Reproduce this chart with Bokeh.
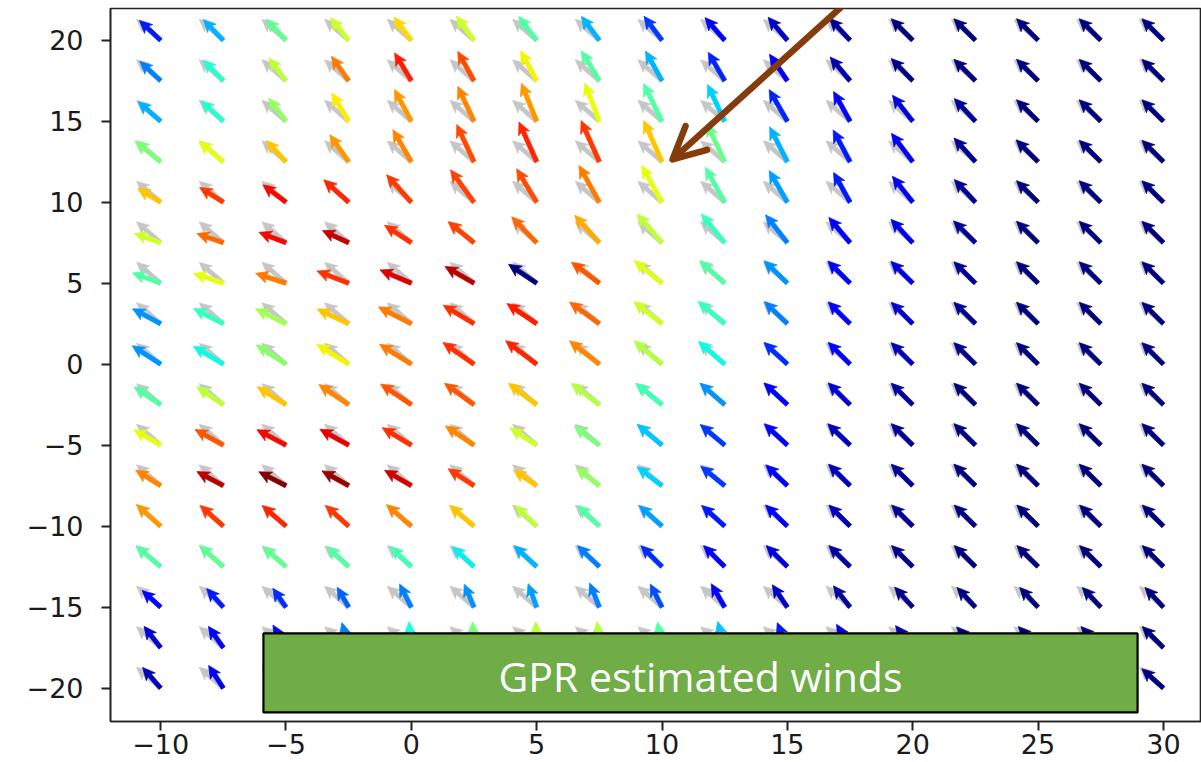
import numpy as np
from bokeh.plotting import figure
from bokeh.models import FixedTicker, Range1d, Arrow, OpenHead
from bokeh.core.properties import value
from bokeh.embed import file_html
from bokeh.resources import INLINE

# ---------------- data ----------------
X_GRID = [-10, -7.5, -5, -2.5, 0, 2.5, 5, 7.5, 10, 12.5, 15, 17.5, 20, 22.5, 25, 27.5, 30]
Y_GRID = [20, 17.5, 15, 12.5, 10, 7.5, 5, 2.5, 0, -2.5, -5, -7.5, -10, -12.5, -15, -17.5, -20]

# estimated wind direction (degrees, screen angle) per grid row (top -> bottom)
EST_DIR = [
    [137, 134, 133, 129, 127, 126, 127, 127, 127, 131, 130, 133, 135, 135, 135, 135, 135],
    [137, 134, 127, 125, 121, 119, 118, 121, 119, 120, 124, 130, 134, 135, 135, 135, 135],
    [139, 137, 127, 121, 118, 115, 112, 111, 116, 115, 120, 119, 128, 133, 135, 135, 135],
    [141, 140, 133, 125, 120, 115, 114, 114, 114, 115, 117, 118, 127, 132, 135, 135, 135],
    [149, 148, 143, 138, 132, 126, 121, 119, 119, 119, 120, 119, 128, 133, 135, 135, 135],
    [161, 161, 159, 155, 147, 141, 134, 132, 131, 129, 128, 130, 133, 135, 135, 135, 135],
    [160, 162, 162, 159, 157, 150, 146, 143, 141, 138, 136, 135, 135, 135, 135, 135, 135],
    [152, 153, 154, 155, 153, 149, 146, 144, 142, 140, 136, 135, 135, 135, 135, 135, 135],
    [147, 149, 147, 148, 148, 145, 143, 142, 140, 139, 137, 135, 135, 135, 135, 135, 135],
    [146, 146, 148, 146, 146, 144, 143, 143, 141, 139, 137, 135, 135, 135, 135, 135, 135],
    [150, 151, 152, 151, 149, 146, 147, 143, 140, 140, 137, 136, 135, 135, 135, 135, 135],
    [148, 152, 153, 151, 150, 147, 146, 142, 143, 141, 136, 135, 135, 135, 135, 135, 135],
    [138, 138, 139, 138, 139, 140, 136, 136, 138, 138, 136, 135, 135, 135, 135, 135, 135],
    [140, 138, 139, 137, 136, 137, 137, 136, 135, 135, 135, 135, 135, 135, 135, 135, 135],
    [138, 132, 125, 120, 117, 113, 110, 112, 117, 120, 124, 128, 132, 133, 133, 133, 133],
    [128, 125, 120, 105, 95, 93, 92, 95, 100, 105, 112, 120, 128, 132, 133, 133, 135],
    [131, 123, 118, 110, 100, 95, 95, 100, 105, 110, 115, 122, 128, 132, 135, 136, 138],
]

# estimated wind speed per grid row
EST_SPEED = [
    [2.9, 2.9, 2.9, 2.9, 2.9, 3.0, 3.0, 3.0, 3.0, 3.0, 3.0, 3.0, 3.05, 3.05, 3.05, 3.05, 3.05],
    [2.85, 2.9, 2.85, 3.0, 3.25, 3.35, 3.4, 3.5, 3.4, 3.3, 3.2, 3.1, 3.1, 3.05, 3.05, 3.05, 3.05],
    [3.0, 3.0, 2.9, 3.3, 3.6, 3.85, 4.1, 4.1, 4.2, 4.05, 3.65, 3.4, 3.3, 3.1, 3.05, 3.05, 3.05],
    [3.3, 3.2, 2.9, 3.3, 3.7, 4.1, 4.35, 4.5, 4.5, 4.2, 3.9, 3.6, 3.55, 3.2, 3.1, 3.05, 3.05],
    [2.7, 2.8, 2.9, 3.35, 3.7, 4.0, 3.9, 4.2, 4.2, 4.0, 3.65, 3.4, 3.3, 3.1, 3.05, 3.05, 3.05],
    [2.8, 2.8, 2.9, 2.9, 3.2, 3.35, 3.6, 3.7, 3.8, 3.7, 3.55, 3.3, 3.2, 3.1, 3.05, 3.05, 3.05],
    [3.0, 3.15, 3.2, 3.4, 3.4, 3.35, 3.4, 3.5, 3.6, 3.4, 3.25, 3.15, 3.1, 3.05, 3.05, 3.05, 3.05],
    [3.2, 3.35, 3.4, 3.5, 3.7, 3.6, 3.6, 3.7, 3.6, 3.5, 3.2, 3.1, 3.05, 3.05, 3.05, 3.05, 3.05],
    [3.4, 3.5, 3.55, 3.75, 3.75, 3.8, 3.9, 3.8, 3.65, 3.5, 3.2, 3.1, 3.05, 3.05, 3.05, 3.05, 3.05],
    [3.2, 3.2, 3.4, 3.6, 3.7, 3.65, 3.55, 3.55, 3.4, 3.3, 3.2, 3.1, 3.05, 3.05, 3.05, 3.05, 3.05],
    [3.1, 3.25, 3.3, 3.3, 3.4, 3.45, 3.2, 3.15, 3.25, 3.2, 3.15, 3.1, 3.05, 3.05, 3.05, 3.05, 3.05],
    [2.95, 3.0, 3.05, 3.05, 3.1, 3.1, 2.8, 2.95, 3.15, 3.1, 3.0, 3.05, 3.05, 3.05, 3.05, 3.05, 3.05],
    [3.25, 3.1, 3.15, 3.1, 3.3, 3.2, 3.0, 3.0, 3.1, 3.1, 3.05, 3.0, 3.0, 3.0, 3.0, 3.0, 3.0],
    [3.25, 3.2, 3.05, 2.95, 2.9, 2.95, 3.1, 3.05, 3.0, 3.0, 3.0, 3.0, 3.0, 3.0, 3.0, 3.0, 3.0],
    [2.5, 2.5, 2.3, 2.3, 2.6, 2.5, 2.5, 2.6, 2.6, 2.7, 2.7, 2.7, 2.7, 2.7, 2.7, 2.7, 2.7],
    [2.7, 2.6, 2.6, 2.6, 2.6, 2.6, 2.6, 2.6, 2.6, 2.7, 2.7, 2.7, 2.8, 2.8, 2.9, 2.9, 3.0],
    [2.75, 2.7, 2.7, 2.7, 2.7, 2.7, 2.7, 2.7, 2.7, 2.7, 2.8, 2.8, 2.8, 2.85, 2.9, 2.9, 2.9],
]

# estimation error (normalised, colour-mapped with jet) per grid row
EST_ERR = [
    [0.15, 0.30, 0.47, 0.60, 0.68, 0.60, 0.45, 0.30, 0.18, 0.12, 0.06, 0.02, 0, 0, 0, 0, 0],
    [0.25, 0.40, 0.58, 0.78, 0.88, 0.83, 0.65, 0.45, 0.30, 0.16, 0.11, 0.04, 0.01, 0, 0, 0, 0],
    [0.30, 0.40, 0.53, 0.66, 0.75, 0.77, 0.75, 0.63, 0.45, 0.33, 0.16, 0.12, 0.08, 0.02, 0, 0, 0],
    [0.50, 0.63, 0.70, 0.75, 0.77, 0.83, 0.87, 0.85, 0.70, 0.48, 0.30, 0.15, 0.10, 0.02, 0, 0, 0],
    [0.70, 0.85, 0.90, 0.87, 0.85, 0.84, 0.83, 0.78, 0.63, 0.45, 0.28, 0.15, 0.10, 0.02, 0, 0, 0],
    [0.60, 0.80, 0.90, 0.94, 0.86, 0.84, 0.80, 0.73, 0.58, 0.42, 0.25, 0.12, 0.09, 0.02, 0, 0, 0],
    [0.45, 0.63, 0.78, 0.86, 0.92, 0.95, 0.0, 0.82, 0.62, 0.45, 0.27, 0.12, 0.08, 0.02, 0, 0, 0],
    [0.27, 0.42, 0.55, 0.70, 0.78, 0.86, 0.88, 0.80, 0.60, 0.42, 0.25, 0.12, 0.07, 0.02, 0, 0, 0],
    [0.27, 0.37, 0.52, 0.65, 0.78, 0.86, 0.87, 0.77, 0.57, 0.37, 0.17, 0.12, 0.05, 0.01, 0, 0, 0],
    [0.45, 0.58, 0.70, 0.77, 0.82, 0.82, 0.70, 0.57, 0.43, 0.27, 0.12, 0.07, 0.03, 0, 0, 0, 0],
    [0.63, 0.82, 0.90, 0.91, 0.86, 0.77, 0.60, 0.50, 0.32, 0.18, 0.12, 0.05, 0.02, 0, 0, 0, 0],
    [0.77, 0.95, 1.0, 0.98, 0.93, 0.85, 0.70, 0.53, 0.33, 0.18, 0.12, 0.05, 0.02, 0, 0, 0, 0],
    [0.75, 0.85, 0.87, 0.85, 0.77, 0.70, 0.58, 0.45, 0.28, 0.15, 0.12, 0.05, 0.02, 0, 0, 0, 0],
    [0.45, 0.47, 0.47, 0.45, 0.43, 0.36, 0.30, 0.25, 0.17, 0.12, 0.08, 0.03, 0.01, 0, 0, 0, 0],
    [0.13, 0.15, 0.17, 0.22, 0.25, 0.27, 0.28, 0.25, 0.20, 0.12, 0.06, 0.03, 0.01, 0, 0, 0, 0],
    [0.07, 0.12, 0.13, 0.25, 0.38, 0.50, 0.58, 0.57, 0.45, 0.32, 0.15, 0.10, 0.05, 0.02, 0, 0, 0],
    [0.05, 0.10, 0.12, 0.20, 0.30, 0.40, 0.45, 0.45, 0.35, 0.25, 0.12, 0.08, 0.04, 0.01, 0, 0, 0],
]

# ground-truth wind (uniform field, grey arrows)
TRUE_DIR = 139
TRUE_SPEED = 3.2

XTICKS = [-10, -5, 0, 5, 10, 15, 20, 25, 30]
YTICKS = [-20, -15, -10, -5, 0, 5, 10, 15, 20]

LABEL = "GPR estimated winds"
BOX = dict(left=-5.9, right=28.97, top=-16.62, bottom=-21.5)
ANNOT = dict(x_start=17.52, y_start=22.57, x_end=10.42, y_end=12.64)

# ---------------- layout ----------------
W, H = 1201, 762
BL, BT, BR, BB = 110, 8, 0, 41
X0, X1 = -12.0, 31.52
Y0, Y1 = -22.06, 21.96
FW, FH = W - BL - BR, H - BT - BB
SX = FW / (X1 - X0)
SY = FH / (Y1 - Y0)
PX_PER_SPEED = 10.0


def jet(v):
    v = float(np.clip(v, 0, 1))
    r = np.interp(v, [0, 0.35, 0.66, 0.89, 1.0], [0, 0, 1, 1, 0.5])
    g = np.interp(v, [0, 0.125, 0.375, 0.64, 0.91, 1.0], [0, 0, 1, 1, 0, 0])
    b = np.interp(v, [0, 0.11, 0.34, 0.65, 1.0], [0.5, 1, 1, 0, 0])
    return "#%02x%02x%02x" % (int(r * 255), int(g * 255), int(b * 255))


def arrow_poly(x0, y0, ang, length):
    a = np.radians(ang)
    d = np.array([np.cos(a), np.sin(a)])
    n = np.array([-np.sin(a), np.cos(a)])
    w, hw, hl, hal = 2.2, 6.0, 12.5, 10.5
    pts = [(0, w), (length - hal, w), (length - hl, hw), (length, 0),
           (length - hl, -hw), (length - hal, -w), (0, -w)]
    xs = [x0 + (al * d[0] + nm * n[0]) / SX for al, nm in pts]
    ys = [y0 + (al * d[1] + nm * n[1]) / SY for al, nm in pts]
    return xs, ys


p = figure(width=W, height=H, output_backend="svg", toolbar_location=None,
           x_range=Range1d(X0, X1), y_range=Range1d(Y0, Y1),
           min_border_left=BL, min_border_top=BT, min_border_right=BR, min_border_bottom=BB)
p.grid.visible = False
p.background_fill_color = "white"
p.border_fill_color = "white"
p.outline_line_color = "#222222"
p.outline_line_width = 1.6

# grey truth arrows
gx, gy = [], []
for yv in Y_GRID:
    for xv in X_GRID:
        xs, ys = arrow_poly(xv, yv, TRUE_DIR, TRUE_SPEED * PX_PER_SPEED)
        gx.append(xs)
        gy.append(ys)
p.patches(gx, gy, fill_color="#c0c0c0", fill_alpha=0.9, line_color="#c8c8c8", line_width=1.0, line_alpha=0.6)

# coloured estimated arrows
cx, cy, cc = [], [], []
for i, yv in enumerate(Y_GRID):
    for j, xv in enumerate(X_GRID):
        xs, ys = arrow_poly(xv, yv, EST_DIR[i][j], EST_SPEED[i][j] * PX_PER_SPEED)
        cx.append(xs)
        cy.append(ys)
        cc.append(jet(EST_ERR[i][j]))
p.patches(cx, cy, fill_color=cc, line_color=cc, line_width=0.7)

# green label box
p.quad(left=[BOX["left"]], right=[BOX["right"]], top=[BOX["top"]], bottom=[BOX["bottom"]],
       fill_color="#70ad47", line_color="black", line_width=2.2)
p.text(x=[(BOX["left"] + BOX["right"]) / 2], y=[-19.25], text=[LABEL],
       text_font=value("Open Sans"), text_font_size="41px", text_color="white",
       text_align="center", text_baseline="middle")

# brown pointer arrow
BROWN = "#843c0c"
p.add_layout(Arrow(end=OpenHead(size=32, line_color=BROWN, line_width=6.5, line_join="round", line_cap="round"),
                   line_color=BROWN, line_width=6.5, **ANNOT))

# axes
for ax, ticks in ((p.xaxis, XTICKS), (p.yaxis, YTICKS)):
    ax.ticker = FixedTicker(ticks=ticks)
    ax.major_label_overrides = {t: str(t).replace("-", "\u2212") for t in ticks}
    ax.minor_tick_line_color = None
    ax.major_tick_in = 0
    ax.major_tick_out = 9
    ax.major_tick_line_width = 2
    ax.major_tick_line_color = "#222222"
    ax.axis_line_color = "#222222"
    ax.axis_line_width = 1.6
    ax.major_label_text_font = "DejaVu Sans"
    ax.major_label_text_font_size = "27px"
    ax.major_label_text_color = "#1a1a1a"
p.xaxis.major_label_standoff = 3
p.yaxis.major_label_standoff = 18

open("out.html", "w").write(file_html(p, INLINE))
